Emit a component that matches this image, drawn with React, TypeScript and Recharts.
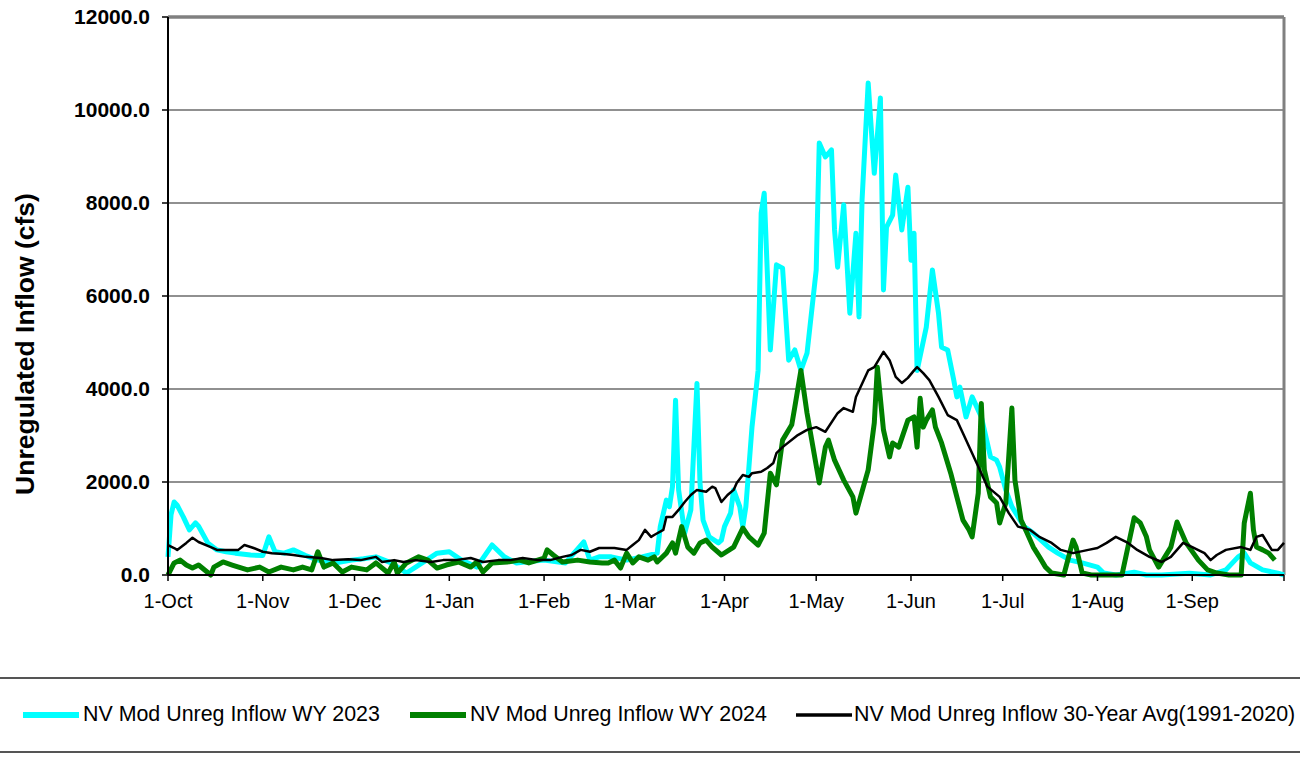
import React from 'react';
import { LineChart, Line, XAxis, YAxis, CartesianGrid, ReferenceLine, Legend } from 'recharts';

const FONT = '"Liberation Sans", Arial, sans-serif';

// day index counted from 1-Oct
const monthTicks = [0, 31, 61, 92, 123, 151, 182, 212, 243, 273, 304, 335, 365];
const monthLabels = ['1-Oct', '1-Nov', '1-Dec', '1-Jan', '1-Feb', '1-Mar', '1-Apr', '1-May', '1-Jun', '1-Jul', '1-Aug', '1-Sep', ''];
const cfsTicks = [0, 2000, 4000, 6000, 8000, 10000, 12000];

// [day, cfs]
const wy2023: [number, number][] = [
  [0, 390], [1, 1300], [2, 1570], [3, 1500], [5, 1250], [7, 970], [9, 1120], [10, 1050], [13, 690], [16, 540],
  [19, 500], [22, 470], [27, 430], [31, 420], [33, 820], [35, 500], [38, 470], [41, 540], [45, 420], [49, 320],
  [55, 260], [60, 320], [64, 350], [68, 390], [73, 260], [78, 43], [81, 170], [88, 470], [92, 500], [96, 320],
  [101, 170], [106, 645], [110, 390], [114, 260], [118, 290], [123, 320], [130, 260], [136, 710], [138, 320], [141, 390],
  [145, 390], [150, 320], [155, 390], [160, 470], [161, 1040], [163, 1610], [164, 1470], [165, 1900], [166, 3760], [167, 1830],
  [169, 900], [171, 1400], [173, 4120], [174, 1980], [175, 1180], [177, 820], [180, 690], [181, 750], [182, 1040], [184, 1330],
  [185, 1830], [187, 1470], [188, 1040], [189, 1470], [191, 3180], [193, 4400], [194, 7780], [195, 8210], [197, 4840], [199, 6670],
  [201, 6600], [203, 4620], [205, 4840], [207, 4400], [209, 4770], [212, 6560], [213, 9290], [215, 8990], [217, 9140], [218, 7420],
  [219, 6620], [221, 7960], [223, 5630], [225, 7350], [226, 5550], [227, 8060], [229, 10580], [231, 8640], [233, 10260], [234, 6130],
  [235, 7480], [237, 7740], [238, 8600], [240, 7420], [242, 8340], [243, 6770], [244, 7350], [245, 4400], [248, 5330], [250, 6560],
  [252, 5630], [253, 4900], [255, 4840], [257, 4190], [258, 3830], [259, 4040], [261, 3400], [263, 3830], [266, 3400], [269, 2540],
  [271, 2470], [272, 2320], [274, 1830], [276, 1470], [280, 1040], [283, 900], [288, 600], [291, 470], [295, 320], [299, 260],
  [304, 170], [306, 43], [310, 0], [316, 60], [320, 0], [325, 0], [334, 40], [341, 0], [346, 110], [350, 390],
  [352, 470], [354, 260], [358, 110], [363, 40], [365, 0],
];

const wy2024: [number, number][] = [
  [0, 0], [2, 260], [4, 320], [6, 215], [8, 150], [10, 215], [14, 0], [15, 170], [18, 280], [21, 215],
  [26, 110], [30, 170], [33, 65], [37, 170], [41, 110], [44, 170], [47, 110], [49, 500], [51, 170], [54, 260],
  [57, 65], [60, 170], [65, 110], [68, 260], [72, 43], [74, 280], [75, 43], [78, 260], [82, 390], [85, 320],
  [88, 150], [91, 215], [95, 280], [99, 170], [101, 280], [103, 65], [106, 260], [111, 280], [115, 320], [118, 260],
  [123, 365], [124, 540], [126, 430], [129, 280], [134, 320], [138, 280], [142, 260], [144, 260], [146, 320], [148, 150],
  [150, 470], [152, 260], [154, 390], [157, 320], [159, 390], [160, 280], [163, 470], [165, 690], [166, 470], [168, 1040],
  [170, 600], [172, 470], [174, 690], [176, 750], [178, 600], [181, 430], [185, 600], [188, 1010], [190, 820], [193, 645],
  [195, 900], [196, 1550], [197, 2190], [199, 1940], [201, 2900], [204, 3230], [205, 3610], [207, 4400], [209, 3480], [213, 1980],
  [215, 2750], [216, 2900], [218, 2470], [221, 2040], [224, 1680], [225, 1330], [229, 2260], [231, 3270], [232, 4470], [234, 3120],
  [236, 2540], [237, 2840], [239, 2750], [242, 3330], [244, 3400], [245, 2750], [246, 3800], [247, 3180], [248, 3330], [250, 3550],
  [251, 3180], [253, 2840], [256, 2190], [258, 1680], [260, 1180], [262, 970], [263, 820], [265, 1760], [266, 3690], [267, 2260],
  [269, 1680], [271, 1550], [272, 1120], [274, 1550], [276, 3590], [277, 2040], [279, 1180], [281, 900], [283, 600], [285, 390],
  [287, 170], [289, 43], [293, 0], [296, 750], [297, 600], [299, 43], [302, 0], [308, 0], [312, 0], [316, 1230],
  [318, 1120], [320, 820], [321, 540], [324, 170], [328, 600], [330, 1140], [333, 690], [337, 320], [340, 110], [343, 43],
  [347, 0], [351, 0], [352, 1120], [354, 1760], [355, 970], [356, 600], [358, 540], [360, 470], [362, 320],
];

const avg30yr: [number, number][] = [
  [0, 645], [2, 580], [3, 540], [6, 690], [8, 800], [10, 710], [14, 600], [16, 540], [19, 540], [23, 540],
  [25, 645], [28, 580], [31, 500], [34, 470], [38, 450], [41, 430], [45, 390], [50, 365], [54, 320], [59, 340],
  [63, 320], [68, 390], [70, 280], [74, 320], [77, 280], [81, 320], [86, 280], [90, 320], [94, 320], [99, 365],
  [103, 280], [108, 320], [112, 320], [116, 365], [121, 320], [125, 320], [129, 390], [132, 430], [135, 540], [138, 500],
  [141, 580], [146, 580], [150, 540], [152, 645], [154, 750], [156, 970], [158, 820], [159, 860], [162, 970], [163, 1250],
  [165, 1250], [167, 1400], [169, 1570], [171, 1720], [173, 1830], [176, 1790], [178, 1900], [179, 1870], [181, 1570], [183, 1720],
  [185, 1830], [186, 1980], [188, 2150], [190, 2110], [191, 2190], [194, 2220], [196, 2300], [198, 2410], [199, 2620], [201, 2750],
  [206, 3010], [209, 3120], [212, 3180], [215, 3080], [219, 3480], [221, 3590], [224, 3510], [225, 3830], [229, 4400], [231, 4470],
  [234, 4800], [236, 4620], [238, 4260], [240, 4130], [242, 4240], [244, 4400], [245, 4470], [247, 4340], [249, 4190], [252, 3830],
  [255, 3440], [258, 3330], [260, 3050], [263, 2620], [266, 2190], [268, 1900], [272, 1680], [275, 1330], [278, 1040], [282, 970],
  [285, 820], [289, 690], [292, 540], [296, 470], [301, 540], [304, 580], [307, 690], [310, 820], [314, 690], [317, 540],
  [321, 390], [325, 280], [328, 390], [330, 540], [332, 690], [335, 600], [339, 470], [341, 320], [343, 430], [346, 540],
  [351, 600], [354, 540], [356, 820], [358, 860], [361, 540], [363, 540], [365, 690],
];

const series = [
  { key: 'wy2023', name: 'NV Mod Unreg Inflow WY 2023', color: '#00FFFF', width: 5, points: wy2023 },
  { key: 'wy2024', name: 'NV Mod Unreg Inflow WY 2024', color: '#008000', width: 5, points: wy2024 },
  { key: 'avg', name: 'NV Mod Unreg Inflow 30-Year Avg(1991-2020)', color: '#000000', width: 2.5, points: avg30yr },
];

// one row per day, series missing on a day are bridged with connectNulls
const rows = (() => {
  const byDay = new Map<number, Record<string, number>>();
  series.forEach((s) => {
    s.points.forEach(([day, cfs]) => {
      const row = byDay.get(day) || { day };
      row[s.key] = cfs;
      byDay.set(day, row);
    });
  });
  return Array.from(byDay.values()).sort((a, b) => a.day - b.day);
})();

const legendPos = [
  { lineX: 23, textX: 83 },
  { lineX: 410, textX: 470 },
  { lineX: 796, textX: 854 },
];

const LegendBox = () => (
  <div style={{ position: 'relative', width: 1300, height: 76, borderTop: '2px solid #555', borderBottom: '2px solid #555', boxSizing: 'border-box' }}>
    {series.map((s, i) => (
      <div key={s.key}>
        <svg style={{ position: 'absolute', left: legendPos[i].lineX, top: 30 }} width={56} height={12}>
          <line x1={0} x2={56} y1={6} y2={6} stroke={s.color} strokeWidth={s.width + 1} />
        </svg>
        <span style={{ position: 'absolute', left: legendPos[i].textX, top: 23, fontFamily: FONT, fontSize: 21.4, color: '#000', whiteSpace: 'nowrap', lineHeight: '24px' }}>
          {s.name}
        </span>
      </div>
    ))}
  </div>
);

const YTitle = ({ viewBox }: any) => {
  const x = viewBox.x + 25;
  const y = viewBox.y + viewBox.height / 2 + 48;
  return (
    <text x={x} y={y} transform={`rotate(-90, ${x}, ${y})`} textAnchor="middle" dominantBaseline="central"
      fontFamily={FONT} fontSize={26.5} fontWeight="bold" fill="#000">
      Unregulated Inflow (cfs)
    </text>
  );
};

export default function App() {
  return (
    <div style={{ position: 'absolute', left: 0, top: 0, width: 1300, height: 757, background: '#fff' }}>
      <LineChart width={1300} height={757} data={rows} margin={{ top: 17, right: 16, left: 0, bottom: 142 }}>
        <CartesianGrid vertical={false} stroke="#222" strokeWidth={1.2} />
        <XAxis
          dataKey="day"
          type="number"
          domain={[0, 365]}
          ticks={monthTicks}
          tickFormatter={(d: number) => monthLabels[monthTicks.indexOf(d)] ?? ''}
          height={40}
          tickSize={6}
          tickMargin={13}
          axisLine={{ stroke: '#000', strokeWidth: 2 }}
          tickLine={{ stroke: '#000', strokeWidth: 1.5 }}
          tick={{ fill: '#000', fontSize: 20, fontFamily: FONT }}
          interval={0}
        />
        <YAxis
          type="number"
          domain={[0, 12000]}
          ticks={cfsTicks}
          tickFormatter={(v: number) => v.toFixed(1)}
          width={168}
          tickSize={6}
          tickMargin={12}
          axisLine={{ stroke: '#000', strokeWidth: 2 }}
          tickLine={{ stroke: '#000', strokeWidth: 1.5 }}
          tick={{ fill: '#000', fontSize: 21, fontWeight: 'bold', fontFamily: FONT }}
          interval={0}
          label={<YTitle />}
        />
        <ReferenceLine y={12000} stroke="#808080" strokeWidth={3.5} />
        <ReferenceLine x={365} stroke="#808080" strokeWidth={3} />
        {series.map((s) => (
          <Line
            key={s.key}
            dataKey={s.key}
            name={s.name}
            type="linear"
            stroke={s.color}
            strokeWidth={s.width}
            strokeLinejoin="round"
            dot={false}
            activeDot={false}
            connectNulls
            isAnimationActive={false}
          />
        ))}
        <Legend
          layout="vertical"
          align="center"
          verticalAlign="middle"
          content={<LegendBox />}
          wrapperStyle={{ top: 677, left: 0, width: 1300, height: 76 }}
        />
      </LineChart>
    </div>
  );
}
